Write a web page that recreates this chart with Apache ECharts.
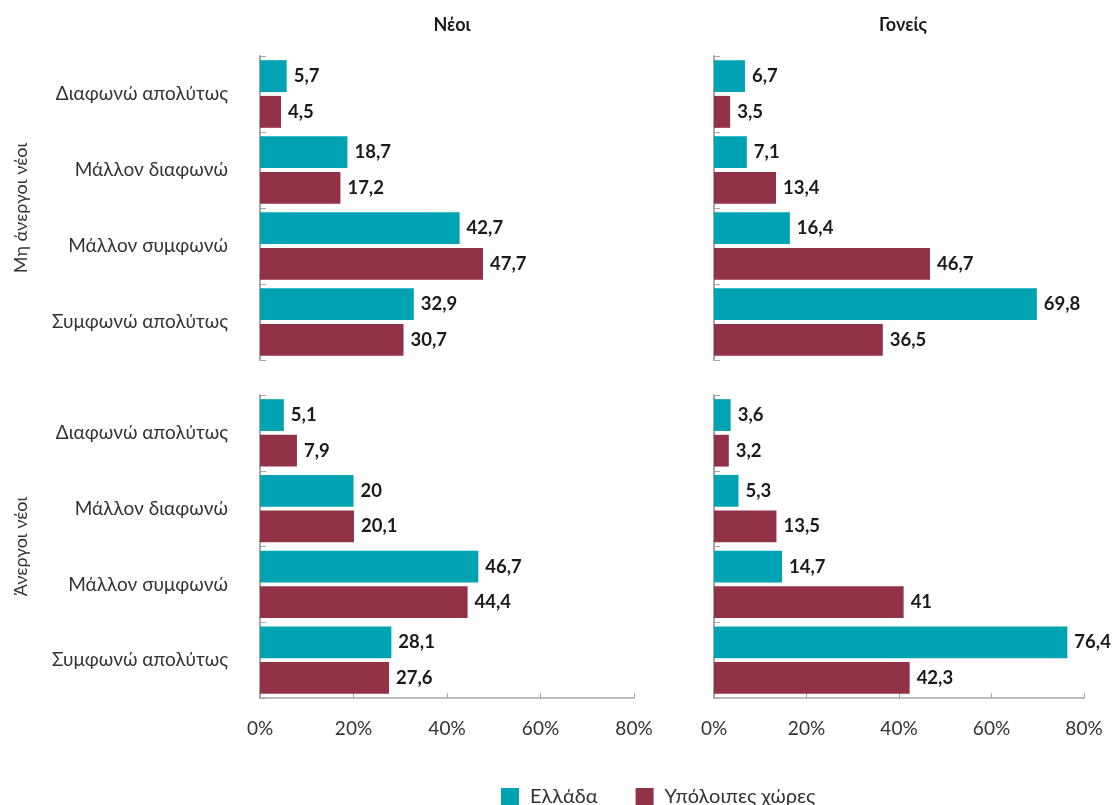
<!DOCTYPE html>
<html><head><meta charset="utf-8">
<script src="https://cdn.jsdelivr.net/npm/echarts@6/dist/echarts.min.js"></script>
<style>html,body{margin:0;padding:0;background:#fff}#c{width:1117px;height:805px}</style>
</head><body><div id="c"></div>
<script>
var categories = ['Διαφωνώ απολύτως', 'Μάλλον διαφωνώ', 'Μάλλον συμφωνώ', 'Συμφωνώ απολύτως'];
var panelTitles = ['Νέοι', 'Γονείς'];
var rowNames = ['Μη άνεργοι νέοι', 'Άνεργοι νέοι'];
var seriesNames = ['Ελλάδα', 'Υπόλοιπες χώρες'];
var xTicks = [0, 20, 40, 60, 80];
// Μη άνεργοι νέοι
var youthEmployedGreece = [5.7, 18.7, 42.7, 32.9];
var youthEmployedOthers = [4.5, 17.2, 47.7, 30.7];
var parentsEmployedGreece = [6.7, 7.1, 16.4, 69.8];
var parentsEmployedOthers = [3.5, 13.4, 46.7, 36.5];
// Άνεργοι νέοι
var youthUnemployedGreece = [5.1, 20, 46.7, 28.1];
var youthUnemployedOthers = [7.9, 20.1, 44.4, 27.6];
var parentsUnemployedGreece = [3.6, 5.3, 14.7, 76.4];
var parentsUnemployedOthers = [3.2, 13.5, 41, 42.3];

var panels = [
  [youthEmployedGreece, youthEmployedOthers],
  [parentsEmployedGreece, parentsEmployedOthers],
  [youthUnemployedGreece, youthUnemployedOthers],
  [parentsUnemployedGreece, parentsUnemployedOthers]
];
var colors = ['#00A3B1', '#923246'];
var FONT = 'Lato';

var grids = [
  {left: 260, top: 56, width: 374, height: 304},
  {left: 714, top: 56, width: 370, height: 304},
  {left: 260, top: 395, width: 374, height: 303},
  {left: 714, top: 395, width: 370, height: 303}
];
var xAxes = [], yAxes = [], series = [];
for (var i = 0; i < 4; i++) {
  var bottom = i >= 2, left = i % 2 === 0;
  xAxes.push({
    gridIndex: i, type: 'value', min: xTicks[0], max: xTicks[xTicks.length - 1], interval: xTicks[1] - xTicks[0],
    splitLine: {show: false},
    axisLine: {show: bottom, lineStyle: {color: '#a6a6a6', width: 1.5}},
    axisTick: {show: bottom, inside: true, length: 5, lineStyle: {color: '#a6a6a6'}},
    axisLabel: {show: bottom, formatter: '{value}%', fontFamily: FONT, fontSize: 19, color: '#333', margin: 21}
  });
  yAxes.push({
    gridIndex: i, type: 'category', data: categories, inverse: true,
    axisLine: {show: true, lineStyle: {color: '#a6a6a6', width: 2}},
    axisTick: {show: true, inside: true, length: 6, lineStyle: {color: '#a6a6a6'}},
    axisLabel: {show: left, fontFamily: FONT, fontSize: 19, color: '#333', margin: 32},
    name: left ? rowNames[bottom ? 1 : 0] : '',
    nameLocation: 'middle', nameRotate: 90, nameGap: 230,
    nameTextStyle: {fontFamily: FONT, fontSize: 18, color: '#333'}
  });
  for (var s = 0; s < 2; s++) {
    series.push({
      type: 'bar', name: seriesNames[s], xAxisIndex: i, yAxisIndex: i,
      data: panels[i][s], barGap: '12%', barCategoryGap: '11%',
      itemStyle: {color: colors[s]},
      label: {show: true, position: 'right', distance: 7, fontFamily: FONT, fontSize: 18.5, fontWeight: 'bold', color: '#1a1a1a',
        formatter: function (p) { return String(p.value).replace('.', ','); }}
    });
  }
}

var chart = echarts.init(document.getElementById('c'));
chart.setOption({
  animation: false,
  color: colors,
  title: [
    {text: panelTitles[0], left: 447, top: 11, textAlign: 'center', textStyle: {fontFamily: FONT, fontSize: 18, fontWeight: 'bold', color: '#1a1a1a'}},
    {text: panelTitles[1], left: 898, top: 11, textAlign: 'center', textStyle: {fontFamily: FONT, fontSize: 18, fontWeight: 'bold', color: '#1a1a1a'}}
  ],
  legend: {
    data: seriesNames, left: 496, top: 782, itemWidth: 18, itemHeight: 18, itemGap: 38, icon: 'rect',
    textStyle: {fontFamily: FONT, fontSize: 20, color: '#333', padding: [0, 0, 0, 6]}
  },
  grid: grids, xAxis: xAxes, yAxis: yAxes, series: series
});
</script></body></html>
